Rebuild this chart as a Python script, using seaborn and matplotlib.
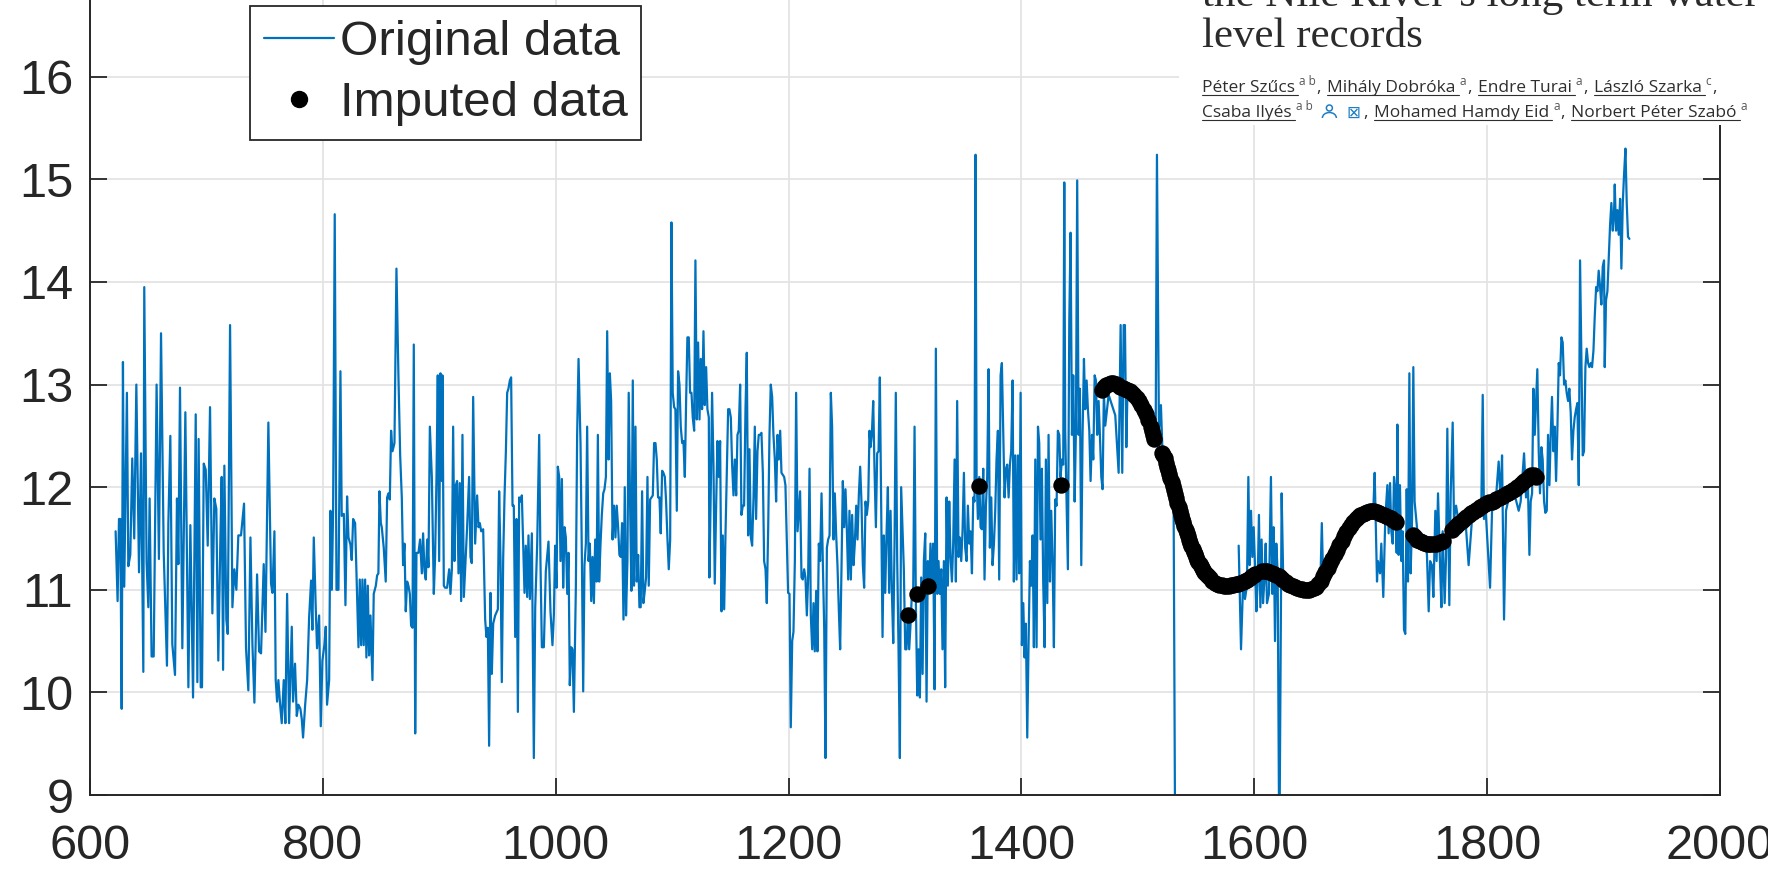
import pandas as pd
import numpy as np
import matplotlib
matplotlib.use("Agg")
import matplotlib.pyplot as plt
import seaborn as sns
from matplotlib.lines import Line2D
from matplotlib.patches import Rectangle, Ellipse, Arc

# ---- data (year, water level in m) ----
# continuous record 622 - 1491
orig_622 = [(622.0, 11.57), (623.7, 10.89), (624.9, 11.69), (626.0, 11.69), (627.2, 9.84), (628.3, 13.22),
            (629.4, 11.03), (631.7, 12.92), (632.9, 11.23), (634.6, 11.34), (636.3, 12.28), (638.0, 11.50),
            (639.8, 13.00), (642.1, 11.17), (643.8, 12.33), (645.8, 10.20), (646.6, 13.95), (648.6, 11.27),
            (650.1, 10.83), (651.2, 11.89), (652.9, 10.35), (654.7, 10.35), (655.8, 11.48), (657.2, 13.00),
            (659.2, 11.30), (661.0, 13.50), (663.3, 11.37), (666.1, 10.26), (667.3, 11.65), (669.0, 12.50),
            (670.7, 10.47), (673.0, 10.17), (674.7, 11.89), (675.9, 11.25), (677.3, 12.97), (679.3, 10.43),
            (681.9, 12.73), (684.5, 10.05), (686.2, 11.63), (688.5, 9.95), (690.8, 12.71), (692.2, 10.10),
            (693.3, 12.47), (695.1, 10.05), (696.2, 10.05), (697.7, 12.23), (699.4, 12.17), (701.1, 11.43),
            (703.1, 12.78), (705.1, 10.77), (706.8, 11.89), (708.5, 11.79), (710.2, 10.31), (712.0, 11.51),
            (713.1, 12.10), (714.3, 10.22), (715.4, 12.21), (717.1, 10.71), (718.3, 10.57), (720.3, 13.58),
            (722.3, 10.83), (724.0, 11.20), (725.7, 11.00), (727.4, 11.53), (729.7, 11.53), (732.3, 11.84),
            (734.0, 10.43), (736.0, 10.02), (737.8, 11.51), (739.5, 10.47), (741.2, 9.90), (743.5, 11.15),
            (745.2, 10.40), (746.9, 10.38), (749.2, 11.25), (750.7, 10.59), (753.2, 12.63), (755.5, 11.06),
            (756.7, 10.97), (758.4, 11.57), (759.5, 10.12), (760.7, 9.91), (761.8, 10.12), (763.3, 9.88),
            (764.7, 9.70), (766.4, 10.12), (767.8, 9.70), (769.3, 10.96), (771.0, 9.70), (773.3, 10.64),
            (774.4, 9.91), (776.1, 10.28), (777.6, 9.77), (779.0, 9.88), (780.7, 9.84), (781.9, 9.74),
            (783.0, 9.56), (784.8, 9.88), (786.5, 10.12), (788.2, 10.73), (789.9, 11.09), (791.0, 10.61),
            (792.2, 11.51), (793.9, 10.82), (795.0, 10.43), (796.8, 10.75), (798.2, 9.67), (799.6, 10.31),
            (801.4, 10.47), (802.5, 10.64), (803.6, 9.88), (805.4, 10.12), (806.5, 11.77), (807.7, 11.00),
            (808.8, 11.77), (810.2, 14.66), (811.7, 11.00), (813.4, 11.00), (815.1, 13.13), (816.2, 11.72),
            (818.0, 11.74), (819.4, 10.85), (820.8, 11.91), (822.0, 11.51), (823.7, 11.44), (824.8, 11.29),
            (826.0, 11.69), (827.7, 11.65), (829.4, 10.96)]

orig_830 = [(830.6, 10.44), (831.7, 11.10), (832.9, 10.46), (834.0, 11.10), (835.1, 10.46), (836.3, 11.10),
            (837.4, 10.34), (838.6, 11.04), (839.7, 10.36), (840.9, 10.75), (842.6, 10.12), (843.7, 10.96),
            (845.5, 11.04), (846.6, 11.14), (847.7, 11.16), (848.6, 11.96), (849.8, 11.65), (850.6, 11.61),
            (852.3, 11.41), (854.0, 11.08), (855.2, 11.90), (856.3, 11.94), (857.5, 11.88), (858.6, 12.55),
            (859.8, 12.35), (861.5, 12.43), (863.2, 14.13), (864.9, 13.09), (866.4, 12.31), (867.8, 11.90),
            (868.9, 11.24), (870.1, 11.45), (871.2, 10.79), (872.4, 11.08), (873.5, 11.04), (874.7, 10.96),
            (875.8, 10.65), (877.0, 10.63), (878.1, 13.39), (879.3, 9.60), (880.4, 11.36), (882.1, 11.36),
            (883.5, 11.49), (885.0, 11.16), (886.1, 11.55), (887.3, 11.18), (888.4, 11.10), (889.6, 11.49),
            (890.7, 11.22), (891.9, 12.59), (893.6, 12.10), (895.3, 10.96), (896.4, 11.32), (897.6, 12.10),
            (898.7, 13.09), (899.9, 11.28), (901.0, 13.11), (902.2, 12.06), (902.7, 13.09), (903.9, 11.04),
            (905.0, 11.02), (906.7, 11.02), (908.5, 11.20), (909.6, 10.96), (910.8, 11.20), (911.9, 12.59),
            (913.0, 11.28), (914.2, 12.02), (915.3, 12.06), (916.5, 11.16), (917.6, 12.04), (918.8, 10.89),
            (919.9, 12.51), (921.1, 10.93), (922.2, 11.20), (923.9, 11.61), (925.6, 12.10), (926.8, 11.32),
            (927.9, 11.26), (929.1, 12.88), (930.8, 11.45), (932.5, 11.92), (933.7, 11.61), (934.8, 11.65),
            (936.0, 11.57), (937.7, 11.59), (939.4, 10.71), (940.5, 10.54), (941.7, 10.63), (942.8, 9.48),
            (944.0, 10.97), (945.1, 10.18), (946.3, 10.67), (948.0, 10.75), (950.3, 10.81), (951.4, 11.96),
            (952.6, 11.28), (953.7, 10.10), (954.9, 11.32), (956.0, 11.90), (957.2, 12.35), (958.3, 12.92),
            (959.4, 12.96), (960.6, 13.04), (961.7, 13.07), (962.9, 11.82), (964.0, 11.82), (965.2, 10.54),
            (966.3, 11.69), (967.5, 9.81), (968.6, 11.90), (969.7, 11.86), (970.9, 11.92), (972.0, 11.45),
            (973.2, 10.97), (974.3, 11.43), (975.5, 10.93), (976.6, 11.53), (977.8, 10.91), (979.5, 11.55),
            (981.2, 9.36), (982.4, 10.83), (984.1, 11.45), (985.8, 12.51), (986.9, 11.28), (988.1, 10.44),
            (989.8, 10.44), (991.5, 11.18), (993.8, 11.47), (995.5, 10.79), (997.2, 10.46), (998.4, 10.75),
            (999.5, 11.43), (1000.7, 11.02), (1001.8, 12.20), (1003.0, 12.10), (1004.1, 11.28), (1005.3, 12.08),
            (1006.4, 11.02), (1007.6, 11.61), (1008.7, 11.51), (1009.9, 10.96), (1011.0, 11.36), (1012.1, 10.07),
            (1013.3, 10.44), (1014.4, 10.42), (1015.6, 9.81), (1017.3, 11.02), (1018.4, 12.51), (1019.6, 13.25),
            (1021.3, 12.43), (1022.5, 11.28), (1023.6, 10.01), (1024.7, 11.24), (1025.9, 11.45), (1027.0, 12.59),
            (1028.2, 11.28), (1029.3, 11.45), (1030.5, 10.89), (1031.6, 11.32), (1032.8, 10.87), (1033.9, 11.49),
            (1035.1, 11.08), (1036.2, 12.51), (1037.3, 11.08), (1038.5, 11.45), (1039.6, 11.73), (1040.8, 11.94),
            (1041.9, 11.98), (1043.1, 12.10), (1044.2, 13.52), (1045.4, 12.27), (1046.5, 13.11), (1047.6, 12.84),
            (1048.8, 11.49)]

orig_1050 = [(1050.1, 11.82), (1051.3, 11.51), (1052.4, 11.82), (1053.6, 11.61), (1054.7, 11.34), (1055.9, 11.32),
             (1057.0, 11.65), (1058.2, 10.71), (1059.3, 12.00), (1060.4, 10.75), (1061.6, 11.28), (1062.7, 12.92),
             (1063.9, 11.82), (1065.0, 10.99), (1066.2, 13.04), (1067.3, 11.04), (1068.5, 12.59), (1069.6, 11.08),
             (1070.8, 11.34), (1071.9, 10.83), (1073.0, 10.83), (1074.2, 11.96), (1075.3, 10.87), (1076.5, 10.99),
             (1077.6, 11.12), (1078.8, 12.10), (1079.9, 11.04), (1081.1, 11.88), (1082.2, 11.90), (1083.4, 11.92),
             (1084.5, 12.43), (1085.7, 12.43), (1086.8, 12.27), (1087.9, 11.90), (1089.1, 11.90), (1090.2, 11.55),
             (1091.4, 12.16), (1092.5, 12.14), (1093.7, 12.10), (1094.8, 11.86), (1096.0, 11.49), (1097.1, 11.20),
             (1098.3, 11.49), (1099.4, 14.58), (1100.5, 12.92), (1101.7, 12.78), (1102.8, 12.76), (1104.0, 11.77),
             (1105.1, 13.13), (1106.3, 13.00), (1107.4, 12.59), (1108.6, 12.43), (1109.7, 12.45), (1110.9, 12.10),
             (1112.0, 12.84), (1113.1, 13.46), (1114.3, 13.46), (1115.4, 12.92), (1116.6, 12.92), (1117.7, 12.68),
             (1118.9, 12.55), (1120.0, 14.21), (1121.2, 12.66), (1122.3, 13.41), (1123.5, 12.66), (1124.6, 13.25),
             (1125.7, 12.76), (1126.9, 13.52), (1128.0, 12.80), (1129.2, 13.17), (1130.3, 12.76), (1131.5, 12.68),
             (1132.0, 11.12), (1133.2, 11.98), (1134.3, 12.92), (1135.5, 12.22), (1136.6, 11.06), (1137.8, 11.82),
             (1138.9, 12.45), (1140.1, 12.10), (1141.2, 12.45), (1142.4, 10.79), (1143.5, 11.53), (1144.7, 10.81),
             (1145.8, 11.53), (1146.9, 12.10), (1148.1, 12.76), (1149.2, 12.76), (1150.4, 12.68), (1151.5, 12.22),
             (1152.7, 11.92), (1153.8, 12.27), (1155.0, 11.92), (1156.1, 12.51), (1157.2, 12.55), (1158.4, 13.00),
             (1159.5, 11.73), (1160.7, 11.82), (1161.8, 11.82), (1163.0, 12.76), (1164.1, 13.31), (1165.3, 11.53),
             (1166.4, 12.37), (1167.6, 11.51), (1168.7, 11.43), (1169.9, 11.90), (1171.0, 12.59), (1172.1, 11.69),
             (1173.3, 12.35), (1174.4, 12.51), (1175.6, 12.51), (1176.7, 12.53), (1177.9, 12.14), (1179.0, 11.28),
             (1180.2, 11.20), (1181.3, 10.87), (1182.5, 11.61), (1183.6, 12.51), (1184.7, 13.00), (1185.9, 12.88),
             (1187.0, 12.51), (1188.2, 12.27), (1189.3, 11.86), (1190.5, 12.51), (1191.6, 12.27), (1192.8, 12.55),
             (1193.9, 12.14), (1195.1, 12.12), (1196.2, 12.10), (1197.3, 12.02), (1198.5, 11.49), (1199.6, 10.97),
             (1200.8, 10.96), (1201.9, 9.66), (1203.1, 10.50), (1204.2, 10.59), (1205.4, 11.28), (1206.5, 12.92),
             (1207.7, 11.57), (1208.8, 11.77), (1209.9, 11.96), (1211.1, 11.12), (1212.2, 11.10), (1213.4, 11.20),
             (1214.5, 11.12), (1215.7, 10.75), (1216.8, 11.12), (1218.0, 12.18), (1219.1, 10.75), (1220.3, 10.42),
             (1221.4, 10.87), (1222.5, 10.40), (1223.7, 10.99), (1224.8, 10.40), (1226.0, 11.45), (1227.1, 11.28),
             (1228.3, 11.94), (1229.4, 11.28), (1230.6, 10.63), (1231.7, 9.36), (1232.9, 11.41), (1234.0, 11.49),
             (1235.2, 11.53), (1236.3, 12.92), (1237.4, 12.59), (1238.6, 11.49), (1239.7, 11.94), (1240.9, 11.53),
             (1242.0, 11.24), (1243.2, 10.79), (1244.3, 10.42), (1245.5, 11.24), (1246.6, 12.06), (1247.8, 11.61),
             (1248.9, 11.98), (1250.0, 11.61), (1251.2, 11.10), (1252.3, 11.77), (1253.5, 11.10), (1254.6, 11.73),
             (1255.8, 11.24), (1256.9, 11.45), (1258.1, 11.82), (1259.2, 11.49), (1260.4, 11.94), (1261.5, 12.20),
             (1262.6, 11.86), (1263.8, 11.24), (1264.9, 11.02), (1266.1, 11.86), (1267.2, 11.73), (1268.4, 11.86),
             (1269.5, 12.55)]

orig_1270 = [(1270.4, 12.39), (1271.5, 12.51), (1272.7, 12.84), (1273.8, 12.18), (1275.0, 11.61), (1276.1, 12.33),
             (1277.3, 12.35), (1278.4, 13.07), (1279.5, 11.86), (1280.7, 10.54), (1281.8, 11.53), (1283.0, 10.97),
             (1284.1, 11.53), (1285.3, 12.00), (1286.4, 10.97), (1287.6, 11.77), (1288.7, 10.99), (1289.9, 10.48),
             (1291.0, 11.45), (1292.1, 12.92), (1293.3, 11.28), (1294.4, 10.46), (1295.6, 9.36), (1296.7, 12.00),
             (1297.9, 11.57), (1299.0, 11.20), (1300.2, 10.42), (1301.3, 10.42), (1302.5, 10.79), (1303.6, 10.42),
             (1304.8, 10.67), (1305.9, 10.96), (1307.0, 10.91), (1308.2, 12.59), (1309.3, 10.91), (1310.5, 9.97),
             (1311.6, 10.42), (1312.8, 9.95), (1313.9, 11.12), (1315.1, 10.18), (1316.2, 11.28), (1317.4, 11.55),
             (1318.5, 9.91), (1319.6, 11.28), (1320.8, 11.04), (1321.9, 11.45), (1323.1, 11.04), (1324.2, 11.45),
             (1325.4, 10.03), (1326.5, 13.35), (1327.7, 10.96), (1328.8, 11.28), (1329.9, 10.96), (1331.1, 11.20),
             (1332.2, 10.42), (1333.4, 11.28), (1334.5, 10.05), (1335.7, 11.90), (1336.8, 11.04), (1338.0, 11.86),
             (1339.1, 11.32), (1340.3, 11.08), (1341.4, 11.45), (1342.6, 12.27), (1343.7, 11.08), (1344.8, 12.84),
             (1346.0, 11.32), (1347.1, 11.51), (1348.3, 11.28), (1349.4, 11.57), (1350.6, 12.14), (1351.7, 11.41),
             (1352.9, 11.28), (1354.0, 11.82), (1355.2, 11.45), (1356.3, 11.57), (1357.5, 11.16), (1358.6, 11.90),
             (1359.7, 11.86), (1360.6, 15.24), (1361.5, 12.10), (1362.6, 11.69), (1363.8, 12.10), (1364.9, 11.61),
             (1366.0, 11.59), (1367.2, 12.18), (1368.3, 11.10), (1369.5, 11.82), (1370.6, 12.10), (1371.8, 13.15),
             (1372.9, 11.41), (1374.1, 11.90), (1375.2, 11.24), (1376.4, 11.45), (1377.5, 11.77), (1378.6, 12.27),
             (1379.8, 12.55), (1380.9, 11.10), (1382.1, 13.09), (1383.2, 13.21), (1384.4, 12.51), (1385.5, 11.90),
             (1386.7, 12.18), (1387.8, 12.22), (1389.0, 11.90), (1390.1, 12.22), (1391.2, 12.35), (1392.4, 13.04),
             (1393.5, 11.08), (1394.7, 12.31), (1395.8, 11.10), (1397.0, 12.31), (1398.1, 11.16), (1399.3, 12.92),
             (1400.4, 10.46), (1401.6, 10.87), (1402.7, 10.34), (1403.8, 10.67), (1405.0, 9.56), (1406.1, 10.46),
             (1407.3, 11.28), (1408.4, 11.04), (1409.6, 11.53), (1410.7, 10.44), (1411.9, 12.27), (1413.0, 10.44),
             (1414.2, 12.59), (1415.3, 12.43), (1416.4, 11.49), (1417.6, 12.18), (1418.7, 11.08), (1419.9, 10.44),
             (1421.0, 12.27), (1422.2, 10.87), (1423.3, 12.51), (1424.5, 11.08), (1425.6, 11.77), (1426.8, 11.24),
             (1427.9, 10.44), (1429.0, 11.88), (1430.2, 11.82), (1431.3, 12.55), (1432.5, 12.51), (1433.6, 12.10),
             (1434.8, 12.27), (1435.9, 12.22), (1436.8, 14.97), (1437.6, 12.55), (1438.8, 11.86), (1439.9, 11.20),
             (1441.1, 13.62), (1442.2, 14.48), (1443.4, 12.51), (1444.5, 13.09), (1445.7, 11.86), (1446.8, 12.55),
             (1447.9, 14.99), (1449.1, 12.51), (1450.2, 12.96), (1451.4, 11.24), (1452.5, 12.51), (1453.7, 13.25),
             (1454.8, 12.76), (1456.0, 13.04), (1457.1, 12.76), (1458.3, 12.55), (1459.4, 12.06), (1460.6, 12.51),
             (1461.7, 12.27), (1462.9, 13.09), (1464.0, 13.04), (1465.1, 12.51), (1466.3, 12.84), (1467.4, 12.51),
             (1468.6, 12.10), (1469.7, 11.98), (1470.8, 12.92), (1472.0, 12.60), (1474.9, 12.90), (1477.7, 12.80),
             (1480.6, 12.70), (1483.5, 12.14), (1485.2, 13.58), (1486.6, 12.14), (1487.8, 13.58), (1488.9, 13.58),
             (1490.1, 12.39), (1490.9, 12.84)]

# short observed stretches inside the gap years
orig_1515 = [(1515.3, 12.50), (1516.4, 15.24), (1518.1, 12.55), (1519.8, 12.80), (1521.0, 12.40), (1522.5, 12.30),
             (1525.0, 12.20), (1528.0, 12.00), (1530.7, 11.86), (1532.1, 8.30)]
orig_1586 = [(1586.6, 11.43), (1588.6, 10.42), (1590.3, 11.04), (1592.0, 10.91), (1593.7, 11.04), (1594.9, 12.10),
             (1596.0, 11.24), (1597.2, 11.77), (1598.3, 11.32), (1599.5, 11.61), (1600.6, 11.24), (1601.8, 10.79),
             (1602.9, 11.08), (1604.0, 11.73), (1605.2, 10.83), (1606.3, 11.49), (1607.5, 10.87), (1608.6, 11.08),
             (1609.8, 11.45), (1610.9, 10.87), (1612.6, 10.96), (1614.3, 12.10), (1615.5, 10.96), (1616.6, 11.61),
             (1617.8, 10.50), (1618.9, 11.45), (1620.1, 11.16), (1621.5, 8.30), (1623.5, 11.94), (1624.7, 11.20)]
orig_1657 = [(1656.8, 11.08), (1658.0, 11.65), (1659.2, 11.08)]

# record 1702 - 1922
orig_1702 = [(1702.3, 11.80), (1703.4, 12.14), (1705.4, 11.08), (1706.2, 11.28), (1708.0, 11.16), (1709.1, 11.45),
             (1710.8, 10.93), (1712.5, 11.69), (1714.3, 12.02), (1715.4, 11.55), (1716.6, 12.04), (1717.7, 11.57),
             (1718.9, 11.45), (1720.0, 12.10), (1721.1, 11.98), (1722.3, 11.36), (1722.9, 12.61), (1724.0, 11.34),
             (1725.1, 12.02), (1726.3, 11.28), (1727.4, 11.57), (1728.6, 10.61), (1729.7, 10.57), (1730.9, 11.98),
             (1732.0, 11.08), (1733.2, 13.11), (1734.3, 11.16), (1735.5, 11.69), (1736.6, 13.17), (1737.7, 11.86),
             (1740.6, 11.50), (1744.0, 11.45), (1746.9, 11.50), (1748.3, 11.34), (1749.8, 10.79), (1751.0, 11.28),
             (1752.6, 11.24), (1753.8, 10.93), (1755.5, 11.77), (1756.6, 11.28), (1757.8, 11.94), (1759.5, 11.26),
             (1760.7, 10.83), (1761.8, 11.57), (1763.5, 10.87), (1764.7, 11.32), (1765.8, 12.57), (1767.5, 10.85),
             (1768.7, 11.94), (1770.4, 12.63), (1771.5, 11.69), (1773.3, 11.82), (1775.6, 11.65), (1778.4, 11.65),
             (1781.3, 11.69), (1784.1, 11.24), (1787.0, 11.69), (1789.9, 11.77), (1792.7, 11.82), (1795.0, 11.82),
             (1796.2, 12.90), (1797.3, 11.69), (1798.5, 11.82), (1802.5, 11.02), (1804.2, 11.77), (1807.1, 11.82),
             (1809.9, 12.25), (1811.6, 11.86), (1812.8, 12.31), (1814.5, 10.71), (1816.2, 11.77), (1817.9, 11.86),
             (1819.7, 11.90), (1821.4, 11.94), (1824.2, 11.90), (1827.1, 11.77), (1828.8, 11.86), (1831.7, 12.33),
             (1833.4, 11.90), (1835.1, 11.98), (1836.3, 11.34), (1837.4, 11.86), (1838.6, 11.94), (1839.7, 12.96),
             (1840.9, 12.51), (1842.0, 12.84), (1843.1, 13.15), (1844.3, 12.35), (1845.4, 11.94), (1846.6, 12.39),
             (1847.7, 12.27), (1848.9, 11.86), (1850.0, 11.75), (1851.2, 11.77), (1852.3, 12.51), (1853.5, 12.02),
             (1854.6, 12.51), (1855.7, 12.88), (1856.9, 12.35), (1858.0, 12.59), (1859.2, 12.06), (1860.3, 12.55),
             (1861.5, 13.21), (1862.6, 13.09), (1863.8, 13.46), (1864.9, 13.41), (1866.1, 13.00), (1867.2, 13.04),
             (1868.3, 12.92), (1869.5, 12.84), (1870.6, 12.96), (1871.8, 12.72), (1872.9, 12.27), (1874.1, 12.55),
             (1875.2, 12.68), (1876.4, 12.76), (1877.5, 12.82), (1878.7, 12.02), (1879.8, 14.21), (1881.0, 13.25),
             (1882.1, 12.31), (1883.2, 12.35), (1884.4, 13.17), (1885.5, 13.35), (1886.7, 13.21), (1887.8, 13.17),
             (1889.0, 13.21), (1890.1, 13.17), (1891.3, 13.33), (1892.4, 13.66), (1893.6, 13.95), (1894.7, 13.91),
             (1895.8, 14.11), (1897.0, 13.95), (1898.1, 13.78), (1899.3, 14.15), (1900.4, 14.21), (1901.0, 13.17),
             (1902.1, 13.82), (1903.3, 13.91), (1904.4, 14.23), (1905.6, 14.56), (1906.7, 14.77), (1907.9, 14.50),
             (1909.0, 14.68), (1909.6, 14.95), (1910.7, 14.50), (1911.9, 14.70), (1913.0, 14.46), (1914.2, 14.81),
             (1915.3, 14.13), (1916.5, 14.77), (1917.6, 15.05), (1918.8, 15.30), (1919.9, 14.77), (1921.0, 14.44),
             (1922.2, 14.42)]

# imputed values (black dots)
imputed_single = [(1303.0, 10.75), (1310.2, 10.96), (1319.6, 11.04), (1363.2, 12.01), (1434.2, 12.02)]
imputed_1469 = [(1469, 12.95), (1471, 12.98), (1473, 13.00), (1475, 13.01), (1477, 13.02), (1479, 13.02),
                (1481, 13.01), (1483, 13.00), (1485, 12.98), (1487, 12.97), (1489, 12.96), (1491, 12.95),
                (1493, 12.94), (1495, 12.92), (1497, 12.90), (1499, 12.87), (1501, 12.84), (1503, 12.80),
                (1505, 12.75), (1507, 12.71), (1509, 12.65), (1511, 12.59), (1512, 12.55), (1513, 12.51),
                (1514, 12.47)]
imputed_1521 = [(1521, 12.33), (1522, 12.31), (1523, 12.28), (1524, 12.24), (1525, 12.20), (1526, 12.17),
                (1527, 12.13), (1528, 12.09), (1529, 12.05), (1530, 12.01), (1531, 11.97), (1532, 11.93),
                (1533, 11.89), (1534, 11.85), (1535, 11.81), (1536, 11.77), (1537, 11.73), (1538, 11.69),
                (1539, 11.66), (1540, 11.62), (1541, 11.58), (1542, 11.55), (1543, 11.52), (1544, 11.49),
                (1545, 11.46), (1546, 11.43), (1547, 11.40), (1548, 11.37), (1549, 11.35), (1550, 11.32),
                (1551, 11.29), (1552, 11.27), (1553, 11.25), (1554, 11.23), (1555, 11.21), (1556, 11.19),
                (1557, 11.17), (1558, 11.16), (1559, 11.14), (1560, 11.13), (1562, 11.11), (1564, 11.09),
                (1566, 11.07), (1568, 11.06), (1570, 11.05), (1572, 11.05), (1574, 11.04), (1576, 11.04),
                (1578, 11.04), (1580, 11.05), (1582, 11.05), (1584, 11.06), (1586, 11.06), (1588, 11.07),
                (1590, 11.08), (1592, 11.09), (1594, 11.10), (1596, 11.11), (1598, 11.13), (1600, 11.14),
                (1601, 11.15)]
imputed_1607 = [(1607, 11.18), (1609, 11.18), (1611, 11.18), (1613, 11.17), (1615, 11.16), (1617, 11.15),
                (1619, 11.14), (1621, 11.13), (1623, 11.11), (1625, 11.10), (1627, 11.08), (1629, 11.06),
                (1631, 11.05), (1633, 11.04), (1635, 11.03), (1637, 11.02), (1639, 11.01), (1641, 11.01),
                (1643, 11.00), (1645, 11.00), (1647, 11.00), (1649, 11.01), (1651, 11.02), (1653, 11.03),
                (1655, 11.06), (1657, 11.09), (1659, 11.13), (1661, 11.17), (1663, 11.21), (1665, 11.26),
                (1667, 11.30), (1669, 11.35), (1671, 11.39), (1673, 11.44), (1675, 11.48), (1677, 11.52),
                (1679, 11.56), (1681, 11.60), (1683, 11.63), (1685, 11.66), (1687, 11.69), (1689, 11.71),
                (1691, 11.73), (1693, 11.74), (1695, 11.75), (1697, 11.76), (1699, 11.77), (1701, 11.77),
                (1703, 11.77), (1705, 11.76), (1707, 11.75), (1709, 11.74), (1711, 11.73), (1713, 11.72),
                (1715, 11.71), (1717, 11.70), (1719, 11.68), (1721, 11.67), (1722, 11.66)]
imputed_1736 = [(1736, 11.53), (1738, 11.51), (1740, 11.49), (1742, 11.48), (1744, 11.47), (1746, 11.46),
                (1748, 11.45), (1750, 11.45), (1752, 11.45), (1754, 11.45), (1756, 11.45), (1758, 11.46),
                (1760, 11.47), (1762, 11.48)]
imputed_1770 = [(1770, 11.58), (1772, 11.61), (1774, 11.63), (1776, 11.65), (1778, 11.67), (1780, 11.69),
                (1782, 11.71), (1784, 11.73), (1786, 11.75), (1788, 11.76), (1790, 11.78), (1792, 11.79),
                (1794, 11.81), (1796, 11.82), (1798, 11.84), (1800, 11.85), (1802, 11.86), (1804, 11.86),
                (1806, 11.87), (1808, 11.88), (1810, 11.89), (1812, 11.90), (1814, 11.91), (1816, 11.93),
                (1818, 11.94), (1820, 11.95), (1822, 11.97), (1824, 11.98), (1826, 12.00), (1828, 12.02),
                (1830, 12.04), (1832, 12.06), (1834, 12.08), (1836, 12.10), (1838, 12.12), (1840, 12.12),
                (1842, 12.10)]

# ---- tables for seaborn ----
segments = [orig_622 + orig_830 + orig_1050 + orig_1270, orig_1515, orig_1586, orig_1657, orig_1702]
rows = []
for k, seg in enumerate(segments):
    for yr, lv in seg:
        rows.append((yr, lv, k))
df_orig = pd.DataFrame(rows, columns=["year", "level", "seg"])

imp_all = imputed_single + imputed_1469 + imputed_1521 + imputed_1607 + imputed_1736 + imputed_1770
df_imp = pd.DataFrame(imp_all, columns=["year", "level"])

W, H = 1768, 872
BLUE = "#0072BD"
DARK = "#262626"

sns.set_theme(style="white")
plt.rcParams["font.family"] = ["Liberation Sans", "DejaVu Sans"]

fig = plt.figure(figsize=(W / 100, H / 100), dpi=100)
ax = fig.add_axes([90 / W, 1 - 795 / H, (1720 - 90) / W, 795 / H])

sns.lineplot(data=df_orig, x="year", y="level", units="seg", estimator=None, sort=False,
             color=BLUE, lw=1.6, ax=ax, zorder=2)
sns.scatterplot(data=df_imp, x="year", y="level", color="black", s=140, linewidth=0, ax=ax, zorder=3)

ax.set_xlim(600, 2000)
ax.set_ylim(9, 16.748)
ax.set_xticks(range(600, 2001, 200))
ax.set_yticks(range(9, 17))
ax.set_xlabel("")
ax.set_ylabel("")
ax.grid(True, color="#e2e2e2", lw=1.2)
ax.set_axisbelow(True)
for side in ["left", "bottom", "right"]:
    ax.spines[side].set_color(DARK)
    ax.spines[side].set_linewidth(1.4)
ax.spines["top"].set_visible(False)
ax.tick_params(axis="both", direction="in", length=12, width=1.3, color=DARK, labelcolor=DARK,
               labelsize=35, right=True, left=True, bottom=True, top=False)
ax.tick_params(axis="x", pad=21)
ax.tick_params(axis="y", pad=12)

handles = [Line2D([0], [0], color=BLUE, lw=1.6),
           Line2D([0], [0], color="black", marker="o", ls="", markersize=11.5)]
leg = ax.legend(handles, ["Original data", "Imputed data"], loc="upper left",
                bbox_to_anchor=(250 / W, 1 - 6 / H), bbox_transform=fig.transFigure,
                fontsize=35.5, frameon=True, fancybox=False, framealpha=1, edgecolor=DARK,
                borderaxespad=0, borderpad=0.28, handlelength=1.42, handletextpad=0.12,
                labelspacing=0.33)
leg.get_frame().set_linewidth(1.3)

# ---- paper header pasted over the top right corner ----
fig.add_artist(Rectangle((1179 / W, 1 - 125 / H), 1 - 1179 / W, 125 / H, transform=fig.transFigure,
                         facecolor="white", edgecolor="none", zorder=10))


def fx(px):
    return px / W


def fy(py):
    return 1 - py / H


serif = ["Liberation Serif", "DejaVu Serif"]
fig.text(fx(1202), fy(6), "the Nile River\u2019s long term water", family=serif, fontsize=31,
         color="#2b2b2b", va="baseline", zorder=11)
fig.text(fx(1202), fy(47), "level records", family=serif, fontsize=31,
         color="#2b2b2b", va="baseline", zorder=11)

renderer = fig.canvas.get_renderer()
sans = ["Open Sans", "DejaVu Sans"]


def write_line(pieces, x, base):
    for txt, kind, gap in pieces:
        if kind == "sup":
            t = fig.text(fx(x), fy(base - 7), txt, family=sans, fontsize=8.5, color="#555555",
                         va="baseline", zorder=12)
        elif kind == "icon":
            t = fig.text(fx(x), fy(base + 1), txt, family=["DejaVu Sans"], fontsize=12, color="#1f7ec2",
                         va="baseline", zorder=12)
        else:
            t = fig.text(fx(x), fy(base), txt, family=sans, fontsize=12.5, color="#2e2e2e",
                         va="baseline", zorder=12)
        bb = t.get_window_extent(renderer)
        if kind == "name":
            fig.add_artist(Line2D([fx(bb.x0), fx(bb.x1 + 3)], [fy(base + 3)] * 2, color="#2e2e2e",
                                  lw=0.8, transform=fig.transFigure, zorder=12))
        x = bb.x1 + gap
    return x


line1 = [("Péter Szűcs", "name", 4), ("a b", "sup", 1), (",", "plain", 6),
         ("Mihály Dobróka", "name", 4), ("a", "sup", 1), (",", "plain", 6),
         ("Endre Turai", "name", 4), ("a", "sup", 1), (",", "plain", 6),
         ("László Szarka", "name", 4), ("c", "sup", 1), (",", "plain", 0)]
write_line(line1, 1202, 92)

base2 = 117
x2 = write_line([("Csaba Ilyés", "name", 4), ("a b", "sup", 10)], 1202, base2)
# small person icon
fig.add_artist(Ellipse((fx(x2 + 7), fy(base2 - 9)), 6 / W, 6 / H, transform=fig.transFigure,
                       facecolor="none", edgecolor="#1f7ec2", lw=1.1, zorder=12))
fig.add_artist(Arc((fx(x2 + 7), fy(base2 + 1)), 14 / W, 11 / H, theta1=0, theta2=180,
                   transform=fig.transFigure, edgecolor="#1f7ec2", lw=1.1, zorder=12))
line2 = [("\u22a0", "icon", 3), (",", "plain", 6),
         ("Mohamed Hamdy Eid", "name", 4), ("a", "sup", 1), (",", "plain", 6),
         ("Norbert Péter Szabó", "name", 4), ("a", "sup", 0)]
write_line(line2, x2 + 24, base2)

fig.savefig("out.png", dpi=100)
